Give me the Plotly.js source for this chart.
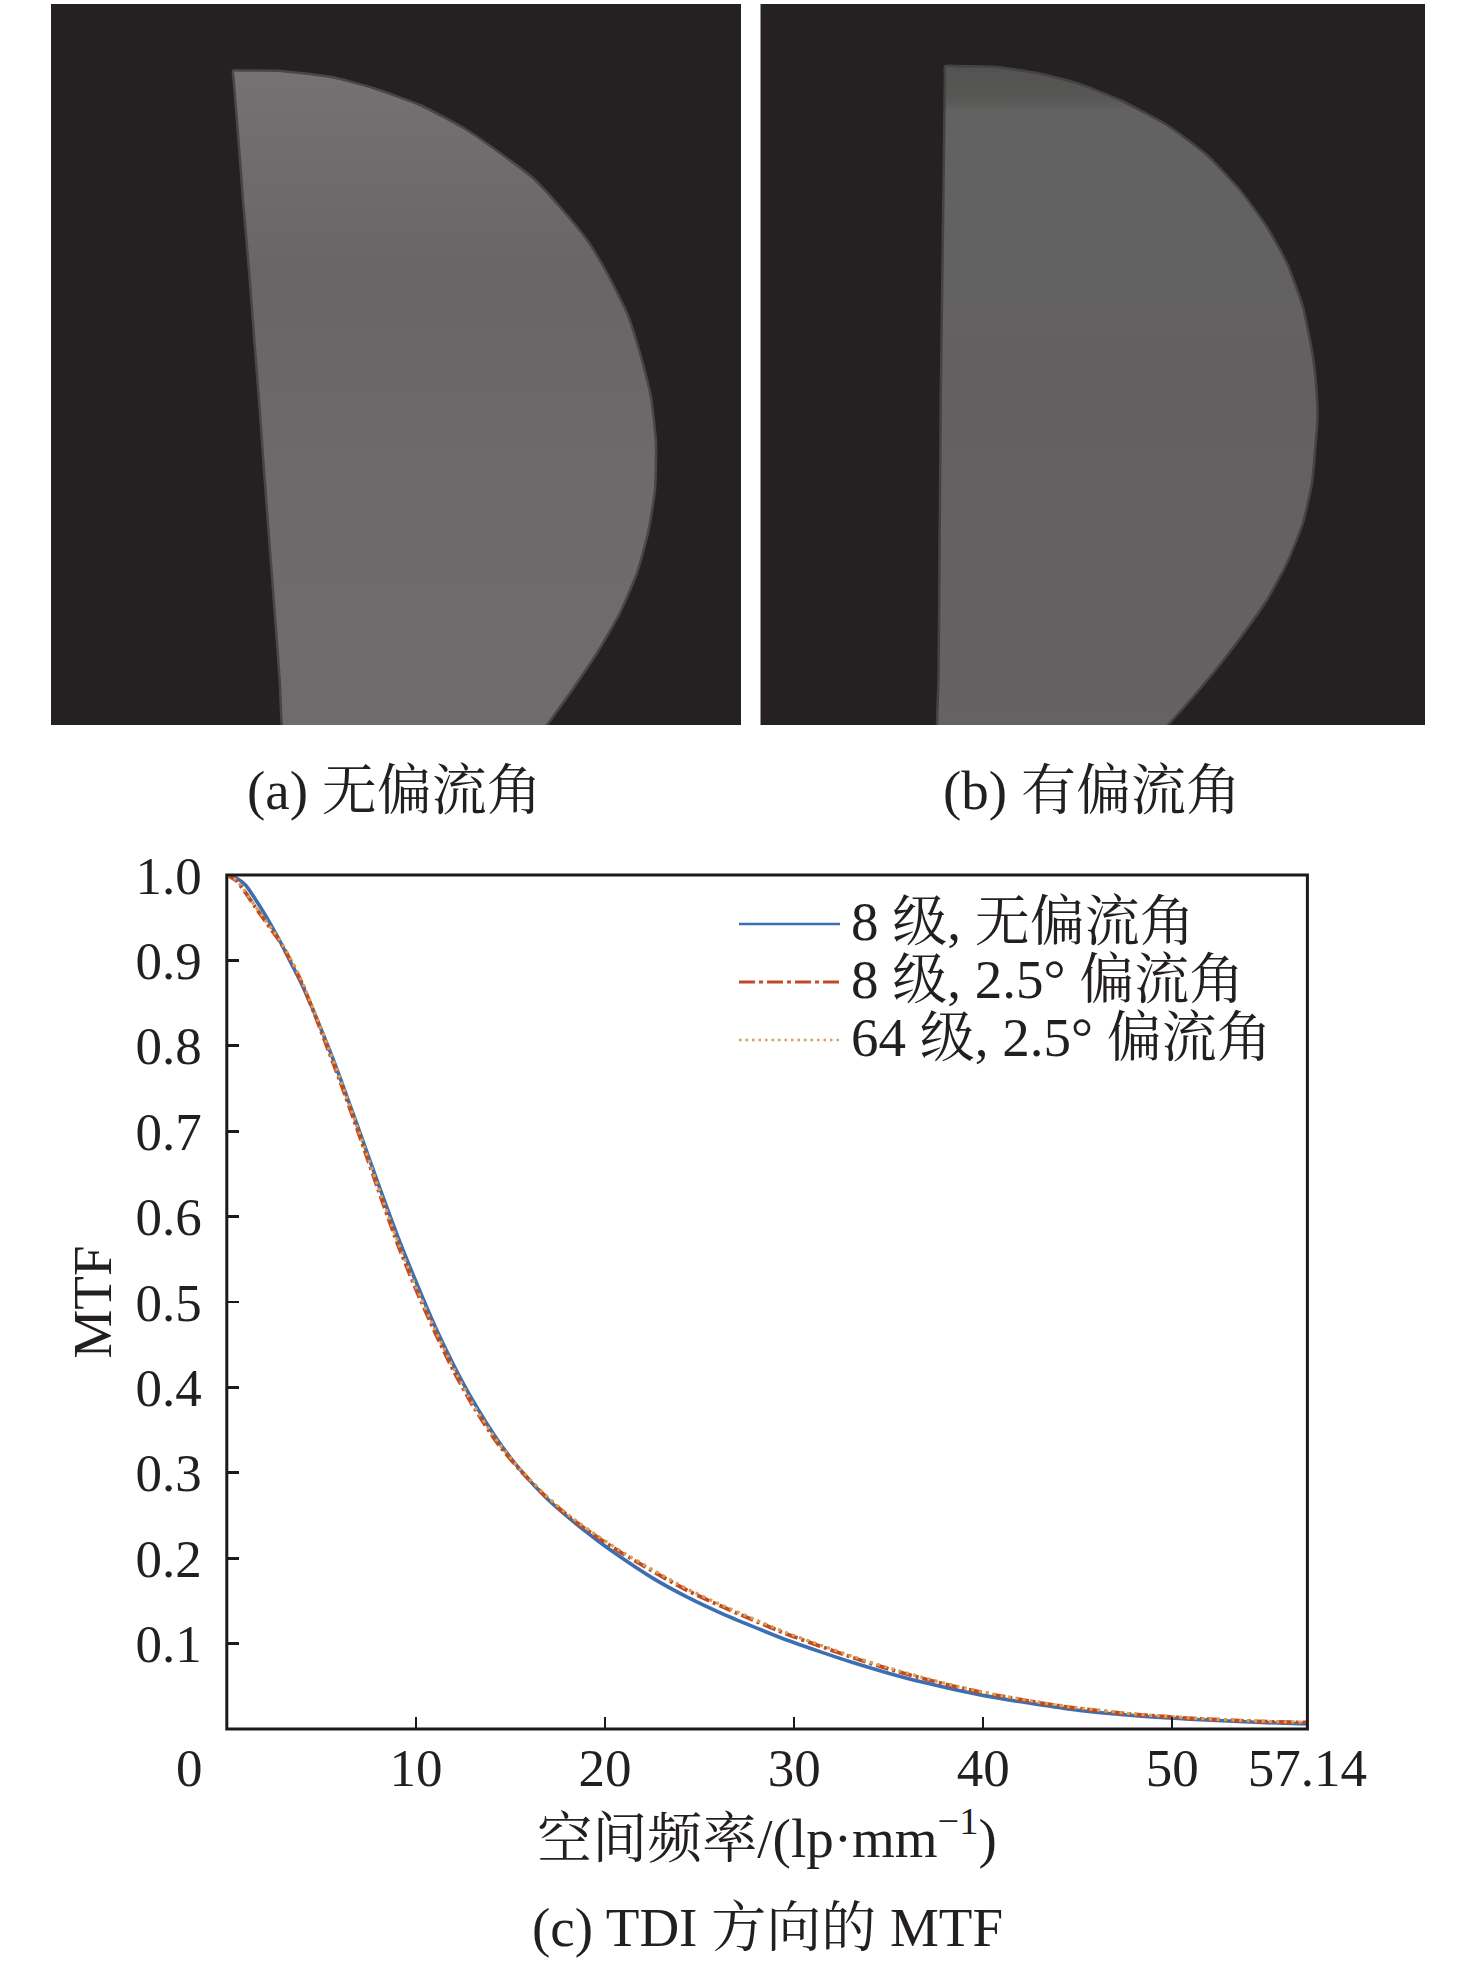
<!DOCTYPE html>
<html><head><meta charset="utf-8">
<script src="https://cdn.plot.ly/plotly-3.0.1.min.js"></script>
<style>html,body{margin:0;padding:0;background:#fff}</style></head>
<body><div id="chart" style="width:1476px;height:1969px"></div>
<script>
// MTF curves
const freq = [0,.5,1,1.5,2,2.4,2.8,3.2,3.9,4.6,5.4,6,6.9,8,9,10,11,12,13,14.3,15.5,16.9,18.3,19.6,20.8,22.5,24.3,26.1,27.8,29.6,31.4,33.1,34.9,36.7,38.4,40.2,42,44.4,47.9,51.5,55,57.14];
const mtf8None = [1,.9965,.988,.972,.9545,.939,.923,.9055,.875,.84,.797,.762,.707,.639,.579,.524,.472,.426,.385,.339,.304,.2705,.2433,.2208,.2017,.177,.155,.136,.1202,.1042,.0903,.0778,.0659,.0552,.0466,.0385,.0318,.0238,.0158,.0108,.0074,.0059];
const mtf8Drift = [1,.9935,.979,.9625,.947,.9346,.9223,.907,.877,.8395,.793,.758,.702,.632,.57,.515,.465,.419,.379,.335,.3032,.2715,.245,.2245,.2072,.185,.1628,.1442,.1278,.1112,.0968,.0836,.071,.0598,.0503,.0416,.0343,.0258,.0172,.0119,.0085,.0076];
const mtf64Drift = [1,.994,.98,.9635,.9485,.936,.924,.909,.879,.842,.796,.761,.705,.635,.573,.518,.468,.422,.381,.337,.3048,.2728,.2465,.2262,.2088,.1867,.1645,.1458,.1294,.1127,.0982,.0849,.0722,.0609,.0512,.0424,.035,.0265,.0178,.0123,.0089,.008];
const seriesNames = ['8 级, 无偏流角','8 级, 2.5° 偏流角','64 级, 2.5° 偏流角'];
const xTickVals = [10,20,30,40,50,57.14];
const xTickText = ['10','20','30','40','50','57.14'];
const yTickVals = [.1,.2,.3,.4,.5,.6,.7,.8,.9,1];
const yTickText = ['0.1','0.2','0.3','0.4','0.5','0.6','0.7','0.8','0.9','1.0'];
// Outlines of the bright areas of the two images (image pixel coordinates)
const shapeAX = [233,242,277,333,373,420,467,500,533,560,587,607,627,640,651,656,655,648,637,620,597,570,547,532,515,400,300,284.5,279.7,274.5,269.2,264,259,254.3,249,243,237.7,233.5,233];
const shapeAY = [70.7,70.5,70.7,77.3,88,105,130,153,178,207,240,273,313,353,397,443,490,533,573,613,653,693,725,745,755,755,755,745,680,610,540,470,400,340,270,200,130,78,70.7];
const shapeBX = [945,955,997,1037,1077,1120,1167,1207,1240,1267,1287,1303,1313,1317,1317.5,1316,1312,1303,1287,1267,1241,1210,1168,1149,1140,1040,950,938,938.5,939.1,939.6,940.2,940.7,941.5,942.4,943.3,944.2,944.9,945];
const shapeBY = [66,66,67,73,83,100,125,155,190,227,263,307,357,397,420,440,483,523,563,600,637,677,725,745,755,755,755,745,680,610,540,470,400,340,270,200,130,74,66];

const serif = '"Liberation Serif","Noto Serif CJK SC","Noto Sans CJK SC",serif';
const ink = '#231f20', W = 1476, H = 1969;
const px = v => v / W, py = v => 1 - v / H;
const base = {mode:'lines', showlegend:false, hoverinfo:'skip'};
const data = [
 {...base, x:shapeAX, y:shapeAY, xaxis:'x2', yaxis:'y2', fill:'toself',
  line:{color:'#494647', width:2.5, shape:'spline', smoothing:.5},
  fillgradient:{type:'vertical', start:70, stop:755, colorscale:[[0,'#747273'],[.18,'#6c6a6b'],[.3,'#676566'],[.6,'#6c6a6b'],[1,'#6e6c6d']]}},
 {...base, x:shapeBX, y:shapeBY, xaxis:'x3', yaxis:'y3', fill:'toself',
  line:{color:'#454243', width:2.5, shape:'spline', smoothing:.5},
  fillgradient:{type:'vertical', start:66, stop:755, colorscale:[[0,'#525250'],[.05,'#585856'],[.065,'#636262'],[.5,'#626061'],[1,'#646263']]}},
 {...base, name:seriesNames[0], x:freq, y:mtf8None, line:{color:'#3b6fb3', width:3.6, shape:'spline', smoothing:.6}},
 {...base, name:seriesNames[1], x:freq, y:mtf8Drift, line:{color:'#c0492a', width:3.8, dash:'13px,4px,3px,4px', shape:'spline', smoothing:.6}},
 {...base, name:seriesNames[2], x:freq, y:mtf64Drift, line:{color:'#d6a24d', width:3.2, dash:'3px,4.5px', shape:'spline', smoothing:.6}}
];
const legendY = [924,982,1040], legendTextY = [922,979,1037];
const legendStyles = [{color:'#3b6fb3',width:2.6},{color:'#c0492a',width:3,dash:'16px,4px,4px,4px'},{color:'#d6a24d',width:2.6,dash:'2.5px,4px'}];
const note = (text,x,y,extra={}) => ({text, x:px(x), y:py(y), xref:'paper', yref:'paper', showarrow:false,
  xanchor:'center', yanchor:'middle', font:{family:serif,size:55,color:ink}, ...extra});
const hiddenAxis = (dom,range,anchor) => ({domain:dom, range, anchor, visible:false, fixedrange:true});
const layout = {
 width:W, height:H, margin:{l:0,r:0,t:0,b:0}, paper_bgcolor:'#fff', plot_bgcolor:'#fff',
 font:{family:serif,size:53,color:ink},
 xaxis:{domain:[px(226.8),px(1307.4)], range:[0,57.14], anchor:'y', tickmode:'array', tickvals:xTickVals, ticktext:xTickText,
   ticks:'inside', ticklen:12, tickwidth:2.2, tickcolor:'#1a1a1a', showline:false,
   showgrid:false, zeroline:false, ticklabelstandoff:3, tickfont:{family:serif,size:53,color:ink},
   title:{text:'空间频率/(lp·mm<sup>−1</sup>)', standoff:22, font:{family:serif,size:55,color:ink}}},
 yaxis:{domain:[py(1729),py(875)], range:[0,1], anchor:'x', tickmode:'array', tickvals:yTickVals, ticktext:yTickText,
   ticks:'inside', ticklen:12, tickwidth:2.8, tickcolor:'#1a1a1a', showline:false,
   showgrid:false, zeroline:false, ticklabelstandoff:24, tickfont:{family:serif,size:53,color:ink},
   title:{text:'MTF', standoff:6, font:{family:serif,size:55,color:ink}}},
 xaxis2:hiddenAxis([px(51),px(741)],[51,741],'y2'),
 yaxis2:hiddenAxis([py(725),py(4)],[725,4],'x2'),
 xaxis3:hiddenAxis([px(760.5),px(1425)],[760.5,1425],'y3'),
 yaxis3:hiddenAxis([py(725),py(4)],[725,4],'x3'),
 shapes:[
  {type:'rect',xref:'x2 domain',yref:'y2 domain',x0:0,x1:1,y0:0,y1:1,fillcolor:'#252122',line:{width:0},layer:'below'},
  {type:'rect',xref:'x3 domain',yref:'y3 domain',x0:0,x1:1,y0:0,y1:1,fillcolor:'#252122',line:{width:0},layer:'below'},
  {type:'rect',xref:'x domain',yref:'y domain',x0:0,x1:1,y0:0,y1:1,line:{color:'#1a1a1a',width:3}},
  ...legendStyles.map((s,i)=>({type:'line',xref:'paper',yref:'paper',x0:px(739),x1:px(840),y0:py(legendY[i]),y1:py(legendY[i]),line:s}))
 ],
 annotations:[
  note('(a) 无偏流角',394,790),
  note('(b) 有偏流角',1092,790),
  note('(c) TDI 方向的 MTF',767,1927),
  note('0',189,1768,{font:{family:serif,size:53,color:ink}}),
  ...seriesNames.map((t,i)=>note(t,849,legendTextY[i],{xanchor:'left'}))
 ]
};
Plotly.newPlot('chart',data,layout,{staticPlot:true,displayModeBar:false});
</script></body></html>
